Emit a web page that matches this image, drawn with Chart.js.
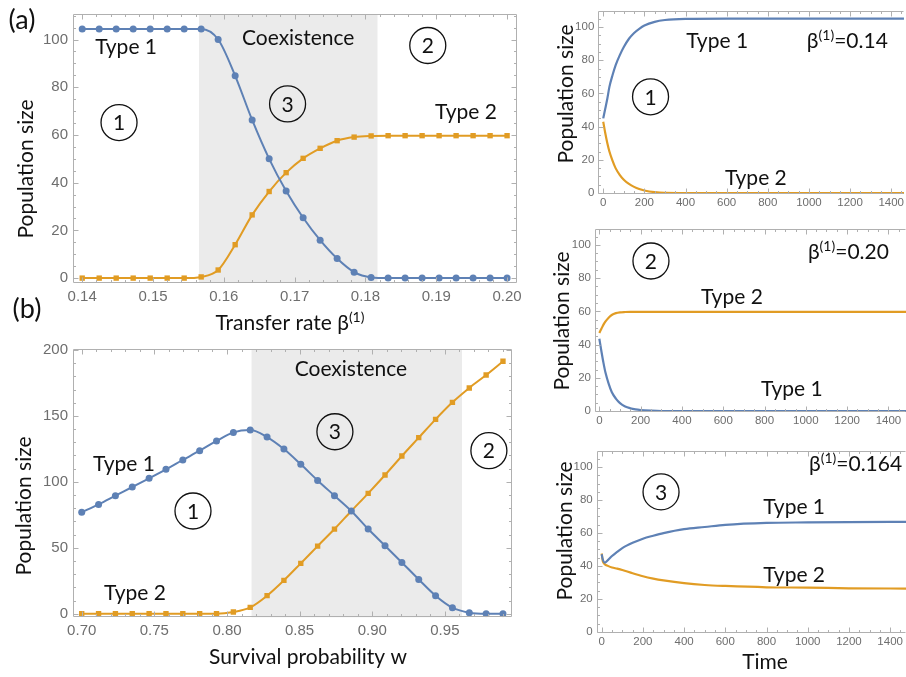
<!DOCTYPE html>
<html>
<head>
<meta charset="utf-8">
<script src="https://cdn.jsdelivr.net/npm/chart.js@4.4.1/dist/chart.umd.min.js"></script>
<style>
html, body { margin: 0; padding: 0; background: #fff; overflow: hidden; width: 906px; height: 677px; }
canvas { position: absolute; }
</style>
</head>
<body>
<canvas id="chartA" width="540" height="340" style="left:0;top:0"></canvas>
<canvas id="chartB" width="540" height="347" style="left:0;top:330px"></canvas>
<canvas id="chart1" width="366" height="218" style="left:540px;top:0"></canvas>
<canvas id="chart2" width="366" height="222" style="left:540px;top:218px"></canvas>
<canvas id="chart3" width="366" height="237" style="left:540px;top:440px"></canvas>
<script>
const BLUE = '#5e81b5';
const ORANGE = '#e19c24';

// (a) population vs transfer rate
const aBeta = [0.14, 0.1424, 0.1448, 0.1472, 0.1496, 0.152, 0.1544, 0.1568, 0.1592, 0.1616, 0.164, 0.1664, 0.1688,
               0.1712, 0.1736, 0.176, 0.1784, 0.1808, 0.1832, 0.1856, 0.188, 0.1904, 0.1928, 0.1952, 0.1976, 0.2];
const aType1 = [104.4, 104.4, 104.4, 104.4, 104.4, 104.4, 104.4, 104.4, 100, 84.8, 66.3, 50, 36.5,
                25.3, 15.9, 8.2, 2.5, 0.3, 0, 0, 0, 0, 0, 0, 0, 0];
const aType2 = [0, 0, 0, 0, 0, 0, 0, 0.5, 3.4, 14, 26.5, 36.3, 44.2,
                50.2, 54.4, 57.6, 59.1, 59.6, 59.7, 59.7, 59.7, 59.7, 59.7, 59.7, 59.7, 59.7];
const aXTicks = [0.14, 0.15, 0.16, 0.17, 0.18, 0.19, 0.20];
const aYTicks = [0, 20, 40, 60, 80, 100];

// (b) population vs survival probability
const bW = [0.7, 0.7116, 0.7232, 0.7348, 0.7464, 0.758, 0.7696, 0.7812, 0.7928, 0.8044, 0.816, 0.8276, 0.8392,
            0.8508, 0.8624, 0.874, 0.8856, 0.8972, 0.9088, 0.9204, 0.932, 0.9436, 0.9552, 0.9668, 0.9784, 0.99];
const bType1 = [76.9, 82.9, 89.5, 96.1, 102.7, 109.5, 116.6, 123.6, 131, 137.5, 139.3, 134, 124.9,
                113.3, 101.1, 89.5, 77.9, 64.2, 51.6, 38.9, 26, 13.7, 4.6, 0.8, 0, 0];
const bType2 = [0, 0, 0, 0, 0, 0, 0, 0, 0, 1.3, 4.8, 13.7, 25.3,
                38.2, 51.3, 64.2, 77.9, 91.3, 105.2, 119.6, 133.5, 147.4, 160.3, 171.2, 181, 191.4];
const bXTicks = [0.70, 0.75, 0.80, 0.85, 0.90, 0.95];
const bYTicks = [0, 50, 100, 150, 200];

// time series, right column
const timeTicks = [0, 200, 400, 600, 800, 1000, 1200, 1400];
const popTicks = [0, 20, 40, 60, 80, 100];

// beta = 0.14
const t1 = [0, 10, 20, 30, 45, 60, 80, 100, 125, 150, 175, 200, 250, 300, 400, 600, 1000, 1500];
const p1Type1 = [45, 51, 57, 64, 71, 77, 83, 88, 93, 96.5, 99, 101, 103.2, 104.3, 105, 105.2, 105.2, 105.2];
const p1Type2 = [43, 36, 30, 25, 19.5, 15, 11, 8, 5.5, 3.7, 2.4, 1.5, 0.5, 0.1, 0, 0, 0, 0];

// beta = 0.20
const t2 = [0, 10, 20, 30, 45, 60, 80, 100, 125, 150, 175, 200, 250, 300, 400, 600, 1000, 1500];
const p2Type1 = [43.5, 36, 29, 23, 16.5, 11.5, 7.5, 4.8, 2.8, 1.7, 1, 0.6, 0.2, 0, 0, 0, 0, 0];
const p2Type2 = [47, 49.5, 52, 54, 56.2, 57.8, 58.9, 59.4, 59.6, 59.7, 59.7, 59.7, 59.7, 59.7, 59.7, 59.7, 59.7, 59.7];

// beta = 0.164
const t3 = [0, 5, 15, 30, 50, 75, 100, 150, 200, 250, 300, 400, 500, 600, 800, 1000, 1200, 1500];
const p3Type1 = [47, 44, 42, 43.5, 46, 48.5, 50.8, 54, 56.5, 58.3, 59.9, 62.3, 63.6, 64.9, 66.1, 66.4, 66.6, 66.7];
const p3Type2 = [47.5, 43, 41, 40, 39, 38.3, 37.5, 35.5, 33.7, 32.3, 31.2, 29.5, 28.4, 27.8, 27, 26.8, 26.4, 26.2];

function pairs(xs, ys) {
    return xs.map((v, i) => ({ x: v, y: ys[i] }));
}

function richWidth(ctx, parts) {
    let w = 0;
    parts.forEach(p => { ctx.font = p.size + 'px Lato'; w += ctx.measureText(p.t).width; });
    return w;
}

function drawRich(ctx, parts, x, y, align) {
    let cx = align === 'left' ? x : x - richWidth(ctx, parts) / 2;
    ctx.textAlign = 'left';
    ctx.textBaseline = 'alphabetic';
    parts.forEach(p => {
        ctx.font = p.size + 'px Lato';
        ctx.fillText(p.t, cx, y + (p.dy || 0));
        cx += ctx.measureText(p.t).width;
    });
}

function betaParts(val) {
    return [{ t: 'β', size: 21 }, { t: '(1)', size: 14, dy: -8 }, { t: '=' + val, size: 21 }];
}

function deco(spec) {
    return {
        id: 'deco',
        beforeDatasetsDraw(chart) {
            if (!spec.shade) return;
            const { ctx, chartArea: a } = chart;
            const xs = chart.scales.x;
            const x0 = xs.getPixelForValue(spec.shade[0]);
            const x1 = xs.getPixelForValue(spec.shade[1]);
            ctx.save();
            ctx.fillStyle = '#ebebeb';
            ctx.fillRect(x0, a.top, x1 - x0, a.bottom - a.top);
            ctx.restore();
        },
        afterDraw(chart) {
            const { ctx, chartArea: a } = chart;
            const xs = chart.scales.x, ys = chart.scales.y;
            const L = Math.round(a.left) + 0.5, T = Math.round(a.top) + 0.5;
            const R = Math.round(a.right) - 0.5, B = Math.round(a.bottom) - 0.5;
            ctx.save();
            // frame with inward ticks; right side of the time panels runs off the page
            ctx.strokeStyle = '#b0b0b0';
            ctx.lineWidth = 1;
            ctx.beginPath();
            ctx.moveTo(R, T); ctx.lineTo(L, T); ctx.lineTo(L, B); ctx.lineTo(R, B);
            if (!spec.openRight) ctx.lineTo(R, T);
            ctx.stroke();
            const marks = (scale, major, step, horiz) => {
                const k0 = Math.ceil(scale.min / step - 1e-6);
                ctx.beginPath();
                for (let k = k0; k * step <= scale.max + 1e-9; k++) {
                    const v = k * step;
                    const big = major.some(m => Math.abs(m - v) < step * 1e-3);
                    const len = big ? 5 : 2.5;
                    const p = Math.round(scale.getPixelForValue(v)) + 0.5;
                    if (horiz) {
                        ctx.moveTo(p, B); ctx.lineTo(p, B - len);
                        ctx.moveTo(p, T); ctx.lineTo(p, T + len);
                    } else {
                        ctx.moveTo(L, p); ctx.lineTo(L + len, p);
                        if (!spec.openRight) { ctx.moveTo(R, p); ctx.lineTo(R - len, p); }
                    }
                }
                ctx.stroke();
            };
            marks(xs, spec.x.ticks, spec.x.minor, true);
            marks(ys, spec.y.ticks, spec.y.minor, false);

            // annotations in data coordinates
            ctx.fillStyle = '#111';
            ctx.strokeStyle = '#111';
            spec.notes.forEach(n => {
                const px = xs.getPixelForValue(n.x), py = ys.getPixelForValue(n.y);
                if (n.circle) {
                    ctx.lineWidth = 1.3;
                    ctx.beginPath();
                    ctx.arc(px, py, 18, 0, Math.PI * 2);
                    ctx.stroke();
                    ctx.font = '21px Lato';
                    ctx.textAlign = 'center';
                    ctx.textBaseline = 'middle';
                    ctx.fillText(n.circle, px, py + 1);
                } else if (n.beta) {
                    drawRich(ctx, betaParts(n.beta), px, py + 7, 'left');
                } else {
                    ctx.font = '21px Lato';
                    ctx.textAlign = 'center';
                    ctx.textBaseline = 'middle';
                    ctx.fillText(n.text, px, py);
                }
            });

            // axis titles and panel letters, canvas pixels
            spec.titles.forEach(t => {
                ctx.save();
                ctx.translate(t.x, t.y);
                if (t.rotate) ctx.rotate(-Math.PI / 2);
                if (t.parts) {
                    drawRich(ctx, t.parts, 0, 7, 'center');
                } else {
                    ctx.font = (t.size || 21) + 'px Lato';
                    ctx.textAlign = 'center';
                    ctx.textBaseline = 'middle';
                    ctx.fillText(t.text, 0, 0);
                }
                ctx.restore();
            });
            ctx.restore();
        }
    };
}

function makeChart(spec) {
    const el = document.getElementById(spec.id);
    const W = el.width, H = el.height, a = spec.area;
    const axis = (ax, isX) => ({
        type: 'linear',
        min: ax.min,
        max: ax.max,
        grid: { display: false, drawTicks: false },
        border: { display: false },
        afterBuildTicks: s => { s.ticks = ax.ticks.map(v => ({ value: v })); },
        afterFit: s => { if (isX) s.height = H - a.b; else s.width = a.l; },
        ticks: {
            autoSkip: false,
            maxRotation: 0,
            padding: isX ? spec.pad[0] : spec.pad[1],
            color: '#6e6e6e',
            font: { family: 'Liberation Sans', size: spec.tickSize },
            callback: v => ax.fmt ? ax.fmt(v) : String(v)
        }
    });
    return new Chart(el, {
        type: 'line',
        data: { datasets: spec.datasets },
        options: {
            responsive: false,
            animation: false,
            layout: { padding: { left: 0, top: a.t, right: W - a.r, bottom: 0 } },
            plugins: { legend: { display: false }, tooltip: { enabled: false } },
            scales: { x: axis(spec.x, true), y: axis(spec.y, false) }
        },
        plugins: [deco(spec)]
    });
}

function markerSet(label, xs, ys, color, style) {
    return {
        label: label,
        data: pairs(xs, ys),
        borderColor: color,
        backgroundColor: color,
        borderWidth: 2,
        pointStyle: style,
        pointRadius: style === 'rect' ? 3.8 : 3.5,
        pointBorderWidth: 0,
        cubicInterpolationMode: 'monotone'
    };
}

function lineSet(label, xs, ys, color) {
    return {
        label: label,
        data: pairs(xs, ys),
        borderColor: color,
        borderWidth: 2.2,
        pointRadius: 0,
        cubicInterpolationMode: 'monotone'
    };
}

const fmt2 = v => v.toFixed(2);
const timeAxis = (min, max) => ({ min: min, max: max, ticks: timeTicks, minor: 50 });
const popAxis = (min, max) => ({ min: min, max: max, ticks: popTicks, minor: 5 });

makeChart({
    id: 'chartA',
    area: { l: 73, t: 8, r: 517, b: 283 },
    pad: [5, 5],
    tickSize: 15,
    x: { min: 0.1387, max: 0.2014, ticks: aXTicks, minor: 0.002, fmt: fmt2 },
    y: { min: -2.05, max: 110.7, ticks: aYTicks, minor: 5 },
    shade: [0.1565, 0.1817],
    datasets: [
        markerSet('Type 1', aBeta, aType1, BLUE, 'circle'),
        markerSet('Type 2', aBeta, aType2, ORANGE, 'rect')
    ],
    notes: [
        { text: 'Type 1', x: 0.1462, y: 96.7 },
        { text: 'Coexistence', x: 0.1705, y: 100.4 },
        { circle: '2', x: 0.1888, y: 97.5 },
        { circle: '3', x: 0.1690, y: 73 },
        { circle: '1', x: 0.1452, y: 65.2 },
        { text: 'Type 2', x: 0.1942, y: 69.7 }
    ],
    titles: [
        { text: '(a)', x: 22, y: 20, size: 27 },
        { text: '(b)', x: 27, y: 309, size: 27 },
        { text: 'Population size', x: 26, y: 169, rotate: true },
        { parts: [{ t: 'Transfer rate β', size: 21 }, { t: '(1)', size: 14, dy: -8 }], x: 290, y: 323 }
    ]
});

makeChart({
    id: 'chartB',
    area: { l: 73, t: 19.3, r: 511.7, b: 287.3 },
    pad: [5, 5],
    tickSize: 15,
    x: { min: 0.694, max: 0.996, ticks: bXTicks, minor: 0.01, fmt: fmt2 },
    y: { min: -2.7, max: 200.5, ticks: bYTicks, minor: 10 },
    shade: [0.8169, 0.9618],
    datasets: [
        markerSet('Type 1', bW, bType1, BLUE, 'circle'),
        markerSet('Type 2', bW, bType2, ORANGE, 'rect')
    ],
    notes: [
        { text: 'Coexistence', x: 0.8853, y: 185.6 },
        { circle: '3', x: 0.8743, y: 138 },
        { text: 'Type 1', x: 0.7291, y: 113.5 },
        { circle: '2', x: 0.9803, y: 123.6 },
        { circle: '1', x: 0.7766, y: 77.9 },
        { text: 'Type 2', x: 0.7367, y: 15.7 }
    ],
    titles: [
        { text: 'Population size', x: 24, y: 176, rotate: true },
        { text: 'Survival probability w', x: 308, y: 327 }
    ]
});

makeChart({
    id: 'chart1',
    area: { l: 58.3, t: 1.7, r: 366, b: 194 },
    openRight: true,
    pad: [2, 4],
    tickSize: 11.5,
    x: timeAxis(-24, 1462),
    y: popAxis(-0.6, 109.8),
    datasets: [
        lineSet('Type 1', t1, p1Type1, BLUE),
        lineSet('Type 2', t1, p1Type2, ORANGE)
    ],
    notes: [
        { text: 'Type 1', x: 554, y: 91.4 },
        { beta: '0.14', x: 990, y: 91.4 },
        { circle: '1', x: 230, y: 58 },
        { text: 'Type 2', x: 742, y: 9.2 }
    ],
    titles: [
        { text: 'Population size', x: 26, y: 94, rotate: true }
    ]
});

makeChart({
    id: 'chart2',
    area: { l: 55, t: 1.3, r: 366, b: 194 },
    openRight: true,
    pad: [2, 4],
    tickSize: 11.5,
    x: timeAxis(-21, 1485),
    y: popAxis(-0.57, 109.6),
    datasets: [
        lineSet('Type 1', t2, p2Type1, BLUE),
        lineSet('Type 2', t2, p2Type2, ORANGE)
    ],
    notes: [
        { circle: '2', x: 250, y: 90.3 },
        { beta: '0.20', x: 1010, y: 96 },
        { text: 'Type 2', x: 642, y: 68.6 },
        { text: 'Type 1', x: 932, y: 13.1 }
    ],
    titles: [
        { text: 'Population size', x: 22, y: 103, rotate: true }
    ]
});

makeChart({
    id: 'chart3',
    area: { l: 56.7, t: 0.7, r: 366, b: 193 },
    openRight: true,
    pad: [2, 4],
    tickSize: 11.5,
    x: timeAxis(-24.3, 1477),
    y: popAxis(-0.75, 109.8),
    datasets: [
        lineSet('Type 1', t3, p3Type1, BLUE),
        lineSet('Type 2', t3, p3Type2, ORANGE)
    ],
    notes: [
        { beta: '0.164', x: 1006, y: 101.6 },
        { circle: '3', x: 288, y: 84.9 },
        { text: 'Type 1', x: 934, y: 75.7 },
        { text: 'Type 2', x: 934, y: 34.3 }
    ],
    titles: [
        { text: 'Population size', x: 25, y: 91, rotate: true },
        { text: 'Time', x: 225, y: 222 }
    ]
});
</script>
</body>
</html>
